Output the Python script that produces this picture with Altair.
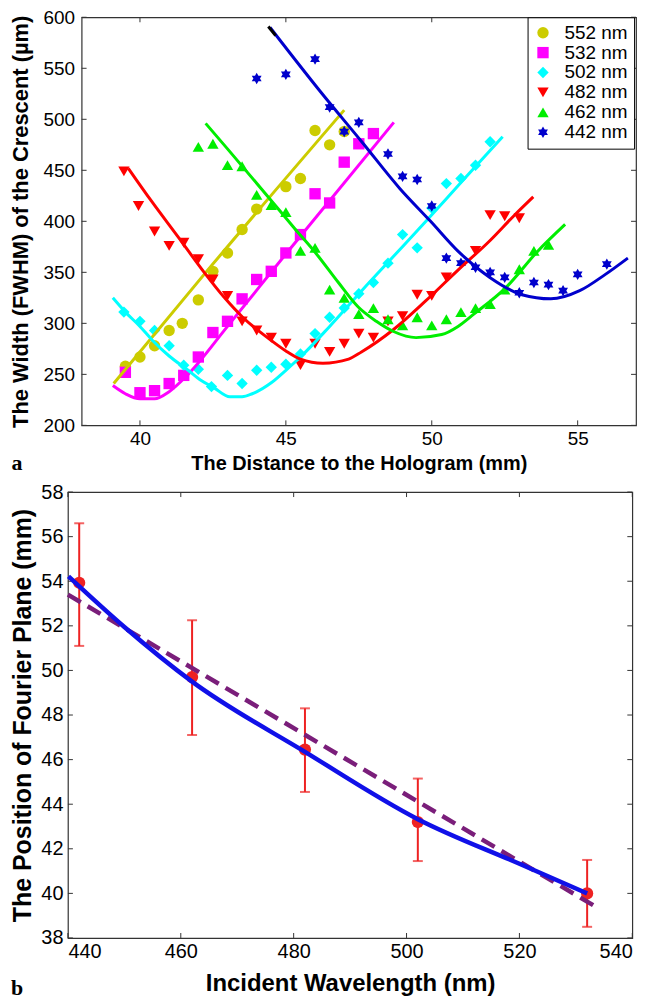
import altair as alt
import pandas as pd

FONT = "Liberation Sans"

# ---------------- panel a : width of the crescent ----------------
series = ["552 nm", "532 nm", "502 nm", "482 nm", "462 nm", "442 nm"]
colors = ["#CCCC00", "#FF00FF", "#00FFFF", "#FF0000", "#00EE00", "#0000CC"]
HEXAGRAM = "M0,-1L0.866,0.5L-0.866,0.5Z M0,1L-0.866,-0.5L0.866,-0.5Z"
shapes = ["circle", "square", "diamond", "triangle-down", "triangle-up", HEXAGRAM]

x552 = [39.5, 40.0, 40.5, 41.0, 41.45, 42.0, 42.5, 43.0, 43.5, 44.0, 45.0, 45.5, 46.0, 46.5, 47.0]
y552 = [258, 267, 278, 293, 300, 323, 351, 369, 392, 412, 434, 442, 489, 475, 488]

x532 = [39.5, 40.0, 40.5, 41.0, 41.5, 42.0, 42.5, 43.0, 43.5, 44.0, 44.5, 45.0, 45.5, 46.0, 46.5, 47.0, 47.5, 48.0]
y532 = [252, 232, 234, 241, 249, 267, 291, 302, 324, 343, 351, 369, 387, 427, 418, 458, 476, 486]

x502 = [39.45, 40.0, 40.5, 41.0, 41.5, 42.0, 42.45, 43.0, 43.5, 44.0, 44.5, 45.0, 45.5, 46.0, 46.5,
        47.0, 47.5, 48.0, 48.5, 49.0, 49.5, 50.0, 50.5, 51.0, 51.5, 52.0]
y502 = [311, 302, 293, 278, 259, 255, 238, 249, 241, 254, 257, 260, 270, 290, 306,
        315, 329, 340, 359, 387, 374, 413, 437, 442, 455, 478]

x482 = [39.45, 39.95, 40.5, 41.0, 41.5, 42.0, 42.5, 43.0, 43.5, 44.0, 44.5, 45.0, 45.5, 46.0, 46.5,
        47.0, 47.5, 48.0, 48.5, 49.0, 49.5, 50.0, 50.5, 51.5, 52.0, 52.5, 53.0]
y482 = [449, 415, 390, 376, 379, 363, 343, 327, 302, 293, 286, 280, 259, 280, 272,
        280, 290, 286, 302, 307, 328, 327, 345, 371, 406, 405, 403]

x462 = [42.0, 42.5, 43.0, 43.5, 44.0, 44.5, 45.0, 45.5, 46.0, 46.5, 47.0, 47.5, 48.0, 48.5, 49.0,
        49.5, 50.0, 50.5, 51.0, 51.5, 52.0, 52.5, 53.0, 53.5, 54.0]
y462 = [473, 476, 455, 454, 426, 416, 409, 371, 374, 333, 325, 309, 315, 304, 298,
        306, 298, 304, 311, 315, 319, 333, 353, 371, 377]

x442 = [44.0, 45.0, 46.0, 46.5, 47.0, 47.5, 48.5, 49.0, 49.5, 50.0, 50.5, 51.0, 51.5, 52.0, 52.5,
        53.0, 53.5, 54.0, 54.5, 55.0, 56.0]
y442 = [540, 544, 559, 512, 488, 497, 466, 444, 441, 415, 364, 359, 355, 350, 345,
        330, 340, 338, 332, 348, 358]

# fitted curves
fx552 = [39.1, 42.2, 47.0]
fy552 = [241, 348, 509]
fx532 = [39.07, 39.5, 40.0, 40.5, 41.0, 41.65, 43.0, 45.0, 48.7]
fy532 = [239, 231, 226, 226, 233, 250, 297, 368, 497]
fx502 = [39.07, 39.5, 40.0, 40.44, 41.0, 41.65, 42.1, 42.53, 43.08, 43.5, 43.85, 44.51, 45.0, 45.5,
         46.5, 47.6, 48.7, 49.8, 51.0, 52.43]
fy502 = [325, 311, 297, 283, 268, 254, 244, 237, 228, 228, 231, 242, 254, 267,
         297, 332, 366, 400, 438, 483]
fx482 = [39.6, 40.39, 41.3, 42.2, 42.9, 43.52, 44.51, 45.0, 45.5, 46.27, 47.15, 47.59, 48.69,
         49.79, 50.89, 51.99, 52.8, 53.48]
fy482 = [452, 420, 385, 350, 325, 306, 283, 273, 265, 261, 265, 272, 294, 322, 352, 381, 405, 424]
fx462 = [42.25, 43.0, 44.51, 45.3, 46.05, 46.8, 47.48, 48.1, 48.69, 49.46, 50.34, 50.9, 51.44,
         52.54, 53.64, 54.57]
fy462 = [496, 471, 420, 393, 368, 340, 316, 302, 292, 286, 289, 297, 309, 335, 371, 397]
fx442 = [44.46, 46.16, 47.6, 48.91, 49.96, 50.89, 51.99, 53.09, 54.08, 55.07, 55.95, 56.72]
fy442 = [590, 528, 478, 432, 400, 371, 345, 328, 324, 332, 348, 364]
bx442 = [44.4, 44.65]
by442 = [591, 582]

xticks_a = [40, 45, 50, 55]
yticks_a = [200, 250, 300, 350, 400, 450, 500, 550, 600]

# ---------------- panel b : Fourier plane position ----------------
wl = [442, 462, 482, 502, 532]
pos = [53.93, 49.7, 46.45, 43.2, 40.0]
err_hi = [56.6, 52.25, 48.3, 45.15, 41.5]
err_lo = [51.1, 47.1, 44.55, 41.45, 38.5]
fit_x = [440.1, 450, 462, 482, 502, 520, 532]
fit_y = [54.22, 51.95, 49.5, 46.35, 43.33, 41.33, 40.0]
lin_x = [440.0, 534.2]
lin_y = [53.4, 39.3]
xticks_b = [440, 460, 480, 500, 520, 540]
yticks_b = [38, 40, 42, 44, 46, 48, 50, 52, 54, 56, 58]

# ---------------- build tables ----------------
pts_rows, line_rows = [], []
pt_lists = [(x552, y552), (x532, y532), (x502, y502), (x482, y482), (x462, y462), (x442, y442)]
fit_lists = [(fx552, fy552), (fx532, fy532), (fx502, fy502), (fx482, fy482), (fx462, fy462), (fx442, fy442)]
for s, c, (xs, ys), (fxs, fys) in zip(series, colors, pt_lists, fit_lists):
    for a, b in zip(xs, ys):
        pts_rows.append({"wl": s, "x": a, "y": b})
    for i, (a, b) in enumerate(zip(fxs, fys)):
        line_rows.append({"wl": s, "col": c, "i": i, "x": a, "y": b})
pts_df = pd.DataFrame(pts_rows)
line_df = pd.DataFrame(line_rows)
black_df = pd.DataFrame({"x": bx442, "y": by442, "i": [0, 1]})

W1, H1 = 557, 410
W2, H2 = 567, 448
TK = 5

axx_a = alt.Axis(values=xticks_a, ticks=False, domain=False, grid=False,
                 title="The Distance to the Hologram (mm)", labelFontSize=19,
                 titleFontSize=20, labelPadding=4, titlePadding=5)
axy_a = alt.Axis(values=yticks_a, ticks=False, domain=False, grid=False,
                 title="The Width (FWHM) of the Crescent (\u00b5m)", labelFontSize=19,
                 titleFontSize=22, labelPadding=7, titlePadding=11)
X1 = alt.X("x:Q", scale=alt.Scale(domain=[38, 57], nice=False, zero=False, padding=0), axis=axx_a)
Y1 = alt.Y("y:Q", scale=alt.Scale(domain=[200, 600], nice=False, zero=False, padding=0), axis=axy_a)

leg = alt.Legend(title=None, orient="none", legendX=W1 - 95, legendY=0,
                 labelFontSize=19, labelFont=FONT, symbolSize=130,
                 labelOffset=12, padding=6, rowPadding=0, strokeColor="black",
                 fillColor="white", symbolStrokeWidth=0, labelColor="black")

points_a = alt.Chart(pts_df).mark_point(filled=True, opacity=1, size=130).encode(
    x=X1, y=Y1,
    color=alt.Color("wl:N", scale=alt.Scale(domain=series, range=colors), legend=leg),
    shape=alt.Shape("wl:N", scale=alt.Scale(domain=series, range=shapes), legend=leg),
)
lines_a = alt.Chart(line_df).mark_line(strokeWidth=3, interpolate="monotone").encode(
    x=X1, y=Y1, color=alt.Color("col:N", scale=None), detail="wl:N", order="i:Q"
)
black_a = alt.Chart(black_df).mark_line(strokeWidth=3, color="black").encode(x=X1, y=Y1, order="i:Q")

xt_a = pd.DataFrame({"x": xticks_a})
yt_a = pd.DataFrame({"y": yticks_a})
tick_style = dict(color="#333", strokeWidth=1)
ticks_a = (
    alt.Chart(xt_a).mark_rule(**tick_style).encode(x=X1, y=alt.value(H1), y2=alt.value(H1 - TK))
    + alt.Chart(xt_a).mark_rule(**tick_style).encode(x=X1, y=alt.value(0), y2=alt.value(TK))
    + alt.Chart(yt_a).mark_rule(**tick_style).encode(y=Y1, x=alt.value(0), x2=alt.value(TK))
    + alt.Chart(yt_a).mark_rule(**tick_style).encode(y=Y1, x=alt.value(W1), x2=alt.value(W1 - TK))
)
lab_a = alt.Chart(pd.DataFrame({"t": ["a"]})).mark_text(
    font="Liberation Serif", fontWeight="bold", fontSize=22, color="black"
).encode(text="t:N", x=alt.value(-65), y=alt.value(H1 + 38))

top = alt.layer(ticks_a, points_a, lines_a, black_a, lab_a).properties(width=W1, height=H1)

# bottom panel
axx_b = alt.Axis(values=xticks_b, ticks=False, domain=False, grid=False,
                 title="Incident Wavelength (nm)", labelFontSize=20,
                 titleFontSize=24, labelPadding=4, titlePadding=10)
axy_b = alt.Axis(values=yticks_b, ticks=False, domain=False, grid=False,
                 title="The Position of Fourier Plane (mm)", labelFontSize=20,
                 titleFontSize=25, labelPadding=5, titlePadding=5)
X2 = alt.X("x:Q", scale=alt.Scale(domain=[440, 540], nice=False, zero=False, padding=0), axis=axx_b)
Y2 = alt.Y("y:Q", scale=alt.Scale(domain=[38, 58], nice=False, zero=False, padding=0), axis=axy_b)

err_df = pd.DataFrame({"x": wl, "y": err_lo, "y2": err_hi})
cap_df = pd.DataFrame({"x": wl + wl, "y": err_lo + err_hi})
pt_df = pd.DataFrame({"x": wl, "y": pos})
fit_df = pd.DataFrame({"x": fit_x, "y": fit_y, "i": list(range(len(fit_x)))})
lin_df = pd.DataFrame({"x": lin_x, "y": lin_y, "i": [0, 1]})

RED = "#EE2222"
err_b = alt.Chart(err_df).mark_rule(color=RED, strokeWidth=2).encode(x=X2, y=Y2, y2="y2:Q")
cap_b = alt.Chart(cap_df).mark_tick(color=RED, orient="horizontal", size=10, thickness=2).encode(x=X2, y=Y2)
pts_b = alt.Chart(pt_df).mark_circle(color=RED, size=150, opacity=1).encode(x=X2, y=Y2)
fit_b = alt.Chart(fit_df).mark_line(color="#1010E8", strokeWidth=4.5, interpolate="monotone").encode(
    x=X2, y=Y2, order="i:Q")
lin_b = alt.Chart(lin_df).mark_line(color="#7A1E7A", strokeWidth=4.5, strokeDash=[15, 8]).encode(
    x=X2, y=Y2, order="i:Q")

xt_b = pd.DataFrame({"x": xticks_b})
yt_b = pd.DataFrame({"y": yticks_b})
ticks_b = (
    alt.Chart(xt_b).mark_rule(**tick_style).encode(x=X2, y=alt.value(H2), y2=alt.value(H2 - TK))
    + alt.Chart(xt_b).mark_rule(**tick_style).encode(x=X2, y=alt.value(0), y2=alt.value(TK))
    + alt.Chart(yt_b).mark_rule(**tick_style).encode(y=Y2, x=alt.value(0), x2=alt.value(TK))
    + alt.Chart(yt_b).mark_rule(**tick_style).encode(y=Y2, x=alt.value(W2), x2=alt.value(W2 - TK))
)
lab_b = alt.Chart(pd.DataFrame({"t": ["b"]})).mark_text(
    font="Liberation Serif", fontWeight="bold", fontSize=22, color="black"
).encode(text="t:N", x=alt.value(-51), y=alt.value(H2 + 50))
# blank spacer so that the panels are offset horizontally as in the figure
spacer_b = alt.Chart(pd.DataFrame({"t": ["\u00a0"]})).mark_text(
    fontSize=4, align="right", color="white"
).encode(text="t:N", x=alt.value(W2 + 18), y=alt.value(H2 / 2))

bottom = alt.layer(ticks_b, err_b, cap_b, pts_b, lin_b, fit_b, lab_b, spacer_b).properties(width=W2, height=H2)

chart = alt.vconcat(top, bottom, spacing=6, center=True).properties(
    padding={"left": 0, "top": -3, "right": 0, "bottom": 0}
).configure_view(stroke="#333", strokeWidth=1.2).configure_axis(
    labelFont=FONT, titleFont=FONT, labelColor="black", titleColor="black", titleFontWeight="bold"
)

chart.save("out.html", embed_options={"renderer": "svg", "actions": False})
